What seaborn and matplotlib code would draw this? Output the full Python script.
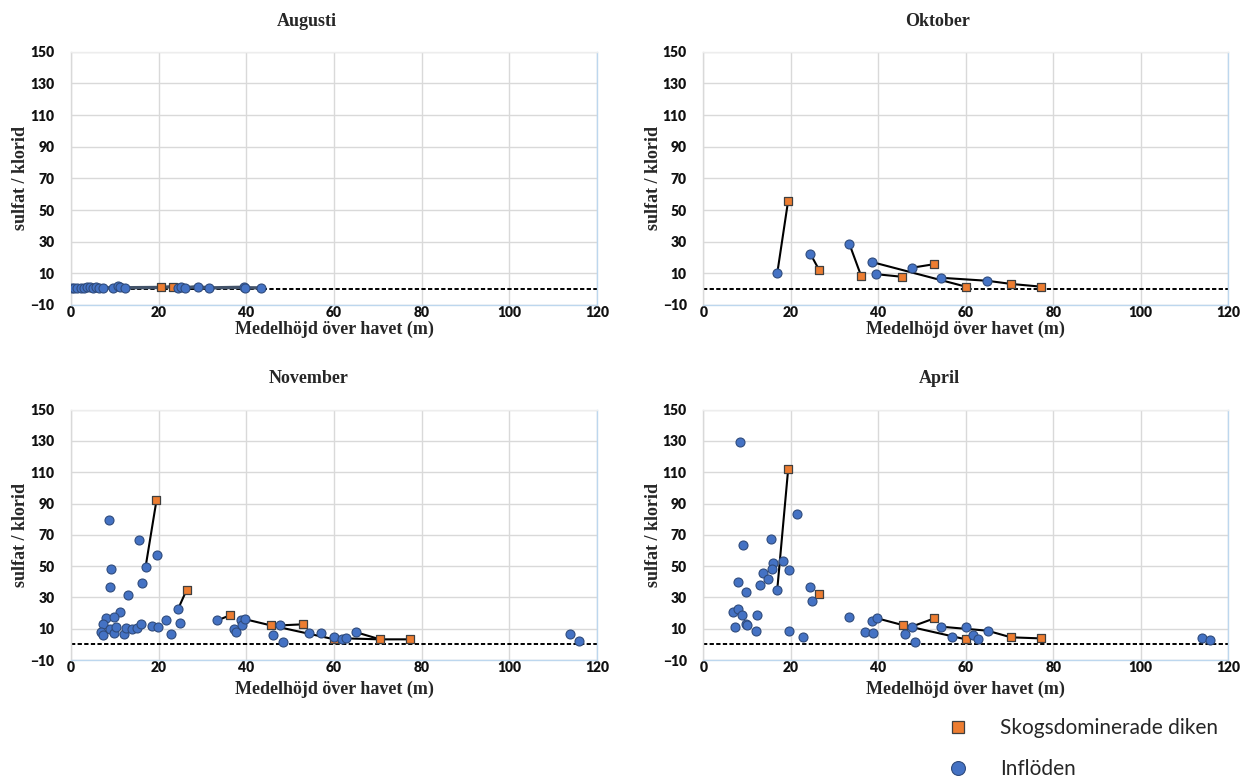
import matplotlib
matplotlib.use("Agg")
import matplotlib.pyplot as plt
from matplotlib.lines import Line2D
import pandas as pd
import seaborn as sns

# ---------------------------------------------------------------
# Sulfat/klorid-kvot mot medelhöjd över havet (m), fyra provtagningar
# ---------------------------------------------------------------
months = ["Augusti", "Oktober", "November", "April"]

# Augusti
aug_infl_x = [0.2, 0.7, 1.3, 2.2, 3.0, 3.6, 4.3, 5.1, 5.7, 6.5, 7.4, 9.5, 10.8, 11.2,
              12.3, 24.5, 25.2, 26.0, 28.9, 31.4, 39.4, 39.7, 43.4]
aug_infl_y = [0.8, 0.9, 0.8, 1.0, 0.9, 1.1, 1.2, 1.0, 1.1, 0.9, 1.0, 0.8, 2.3, 1.4,
              0.9, 1.0, 1.5, 0.9, 1.6, 0.8, 1.2, 0.9, 0.8]
aug_dike_x = [20.6, 23.2]
aug_dike_y = [1.1, 1.6]

# Oktober
okt_infl_x = [16.9, 24.5, 33.4, 38.6, 39.4, 47.6, 54.3, 64.9]
okt_infl_y = [10.0, 22.2, 28.5, 17.1, 9.5, 13.5, 7.2, 5.3]
okt_dike_x = [19.4, 26.5, 36.1, 45.5, 52.8, 60.0, 70.4, 77.1]
okt_dike_y = [56.0, 12.0, 8.2, 7.8, 15.8, 1.6, 3.3, 1.6]
okt_links = [
    ([16.9, 19.4], [10.0, 56.0]),
    ([24.5, 26.5], [22.2, 12.0]),
    ([33.4, 36.1], [28.5, 8.2]),
    ([38.6, 60.0], [17.1, 1.6]),
    ([39.4, 45.5], [9.5, 7.8]),
    ([47.6, 52.8], [13.5, 15.8]),
    ([54.3, 64.9, 70.4, 77.1], [7.2, 5.3, 3.3, 1.6]),
]

# November
nov_infl_x = [8.7, 15.6, 19.7, 9.1, 17.0, 8.8, 16.1, 13.1, 24.4, 11.1, 8.0, 9.8, 7.4,
              6.8, 7.4, 8.9, 9.8, 10.3, 12.1, 12.6, 13.9, 15.0, 15.9, 18.4, 19.8,
              21.6, 22.9, 24.9, 33.4, 37.1, 37.6, 38.7, 39.0, 39.8, 46.1, 47.6, 48.4,
              54.2, 57.1, 60.1, 61.9, 62.8, 65.1, 113.8, 115.8]
nov_infl_y = [79.5, 66.5, 57.0, 48.1, 49.2, 36.8, 39.2, 31.7, 22.4, 20.4, 16.8, 17.2,
              13.0, 8.1, 5.9, 9.8, 7.4, 11.3, 6.6, 10.6, 9.8, 10.6, 13.0, 11.7, 10.8,
              15.5, 6.6, 13.4, 15.3, 9.8, 7.7, 15.3, 12.5, 16.0, 5.9, 12.1, 1.3,
              7.0, 7.0, 4.9, 3.4, 3.8, 7.7, 6.4, 2.1]
nov_dike_x = [19.5, 26.4, 36.2, 45.6, 52.9, 60.1, 70.5, 77.3]
nov_dike_y = [92.0, 34.9, 18.5, 12.1, 12.8, 3.2, 3.2, 3.2]
nov_links = [
    ([17.0, 19.5], [49.2, 92.0]),
    ([24.4, 26.4], [22.4, 34.9]),
    ([33.4, 36.2], [15.3, 18.5]),
    ([39.8, 45.6, 60.1], [16.0, 12.1, 3.2]),
    ([45.6, 47.6, 52.9], [12.1, 12.1, 12.8]),
    ([62.8, 70.5], [3.8, 3.2]),
    ([65.1, 70.5, 77.3], [7.7, 3.2, 3.2]),
]

# April
apr_infl_x = [8.5, 21.4, 15.5, 9.0, 18.3, 16.0, 19.6, 15.8, 13.7, 14.9, 7.9, 13.0,
              16.9, 24.4, 9.8, 24.8, 6.7, 8.0, 8.8, 12.3, 9.8, 10.1, 7.2, 12.0, 19.6,
              22.8, 33.4, 37.0, 38.9, 38.6, 39.8, 46.1, 47.6, 48.4, 54.3, 56.9, 60.0,
              61.6, 62.9, 65.0, 113.9, 115.8]
apr_infl_y = [129.0, 83.5, 67.5, 63.5, 53.5, 52.0, 47.5, 48.0, 45.5, 42.0, 39.8, 38.0,
              34.9, 36.6, 33.4, 27.8, 20.8, 22.4, 18.7, 19.0, 13.0, 12.6, 11.3, 8.5, 8.5,
              4.5, 17.2, 7.7, 7.0, 15.1, 16.6, 6.4, 11.3, 1.3, 11.3, 4.5, 10.9,
              5.9, 3.2, 8.7, 3.8, 2.5]
apr_dike_x = [19.4, 26.4, 45.6, 52.8, 60.0, 70.3, 77.1]
apr_dike_y = [112.0, 32.3, 12.3, 16.6, 3.2, 4.5, 3.8]
apr_links = [
    ([16.9, 19.4], [34.9, 112.0]),
    ([39.8, 45.6, 60.0], [16.6, 12.3, 3.2]),
    ([47.6, 52.8], [11.3, 16.6]),
    ([54.3, 65.0, 70.3, 77.1], [11.3, 8.7, 4.5, 3.8]),
]

x_ticks = [0, 20, 40, 60, 80, 100, 120]
y_ticks = [-10, 10, 30, 50, 70, 90, 110, 130, 150]
reference_level = 0

series_labels = ["Skogsdominerade diken", "Inflöden"]
x_label = "Medelhöjd över havet (m)"
y_label = "sulfat / klorid"

# ---------------------------------------------------------------
panels = {
    "Augusti": (aug_infl_x, aug_infl_y, aug_dike_x, aug_dike_y, None),
    "Oktober": (okt_infl_x, okt_infl_y, okt_dike_x, okt_dike_y, okt_links),
    "November": (nov_infl_x, nov_infl_y, nov_dike_x, nov_dike_y, nov_links),
    "April": (apr_infl_x, apr_infl_y, apr_dike_x, apr_dike_y, apr_links),
}

sns.set_theme(style="white")
plt.rcParams["font.family"] = ["Lato", "DejaVu Sans"]

W, H = 1242, 780
fig = plt.figure(figsize=(W / 100, H / 100), dpi=100)
fig.patch.set_facecolor("white")


def px_rect(x0, x1, ytop, ybot):
    return [x0 / W, 1 - ybot / H, (x1 - x0) / W, (ybot - ytop) / H]


layout = {
    "Augusti": (71, 597, 51.7, 305),
    "Oktober": (703.3, 1228.3, 51.7, 305),
    "November": (71, 597, 409.6, 660),
    "April": (703.3, 1228.3, 409.6, 660),
}
title_pos = {"Augusti": (307, 22), "Oktober": (938, 22),
             "November": (309, 378), "April": (939, 378)}
xlabel_y = {"Augusti": 329, "Oktober": 329, "November": 689, "April": 689}

BLUE, BLUE_EDGE = "#4472C4", "#2F4B7C"
ORANGE, ORANGE_EDGE = "#ED7D31", "#3F3F3F"
GRID = "#D9D9D9"
AXIS_BLUE = "#BDD7EE"

serif = ["Liberation Serif", "DejaVu Serif"]

for month in months:
    ix, iy, dx, dy, links = panels[month]
    x0, x1, yt, yb = layout[month]
    ax = fig.add_axes(px_rect(x0, x1, yt, yb))

    infl = pd.DataFrame({"x": ix, "y": iy})
    dike = pd.DataFrame({"x": dx, "y": dy})

    if links is None:
        # all points of the month joined in order of elevation
        allpts = pd.concat([infl, dike]).sort_values("x").reset_index(drop=True)
        sns.lineplot(data=allpts, x="x", y="y", estimator=None, sort=True,
                     color="#44546A", lw=2.4, ax=ax, zorder=2)
    else:
        rows = []
        for k, (lx, ly) in enumerate(links):
            for xv, yv in zip(lx, ly):
                rows.append({"chain": k, "x": xv, "y": yv})
        ldf = pd.DataFrame(rows)
        sns.lineplot(data=ldf, x="x", y="y", units="chain", estimator=None,
                     sort=False, color="black", lw=1.5, ax=ax, zorder=2)

    ax.axhline(reference_level, color="black", lw=1.4, ls=(0, (2.2, 1.2)), zorder=1.5)

    sns.scatterplot(data=dike, x="x", y="y", marker="s", s=38, color=ORANGE,
                    edgecolor=ORANGE_EDGE, linewidth=0.9, ax=ax, zorder=3)
    sns.scatterplot(data=infl, x="x", y="y", marker="o", s=42, color=BLUE,
                    edgecolor=BLUE_EDGE, linewidth=0.8, ax=ax, zorder=4)

    ax.set_xlim(x_ticks[0], x_ticks[-1])
    ax.set_ylim(y_ticks[0], y_ticks[-1])
    ax.set_xticks(x_ticks)
    ax.set_yticks(y_ticks)
    ax.grid(True, color=GRID, lw=1.0)
    ax.set_axisbelow(True)
    ax.tick_params(axis="both", length=0, labelsize=10)
    ax.tick_params(axis="y", pad=12)
    ax.tick_params(axis="x", pad=0.5)
    for lab in ax.get_xticklabels() + ax.get_yticklabels():
        lab.set_fontweight("heavy")
        lab.set_color("#111111")
    ax.set_xlabel("")
    ax.set_ylabel("")
    ax.spines["left"].set_color(GRID)
    ax.spines["top"].set_color("#EDEDED")
    ax.spines["right"].set_color(AXIS_BLUE)
    ax.spines["bottom"].set_color(AXIS_BLUE)
    for sp in ax.spines.values():
        sp.set_linewidth(1.0)

    tx, ty = title_pos[month]
    fig.text(tx / W, 1 - ty / H, month, ha="center", va="center",
             fontsize=13, fontweight="bold", family=serif)
    fig.text((x0 + x1) / 2 / W, 1 - xlabel_y[month] / H, x_label, ha="center",
             va="center", fontsize=13, fontweight="bold", family=serif)
    fig.text((x0 - 50) / W, 1 - (yt + yb) / 2 / H, y_label, ha="center",
             va="center", rotation=90, fontsize=13, fontweight="bold", family=serif)

handles = [
    Line2D([], [], ls="", marker="s", ms=9, mfc=ORANGE, mec=ORANGE_EDGE, mew=0.9),
    Line2D([], [], ls="", marker="o", ms=10, mfc=BLUE, mec=BLUE_EDGE, mew=0.8),
]
fig.legend(handles, series_labels, loc="center left",
           bbox_to_anchor=(947.6 / W, 1 - 748.5 / H), frameon=False,
           prop={"family": ["Lato", "DejaVu Sans"], "size": 15},
           handlelength=1.0, handletextpad=1.5, labelspacing=1.0,
           borderpad=0, borderaxespad=0)

fig.savefig("out.png", dpi=100, facecolor="white")
